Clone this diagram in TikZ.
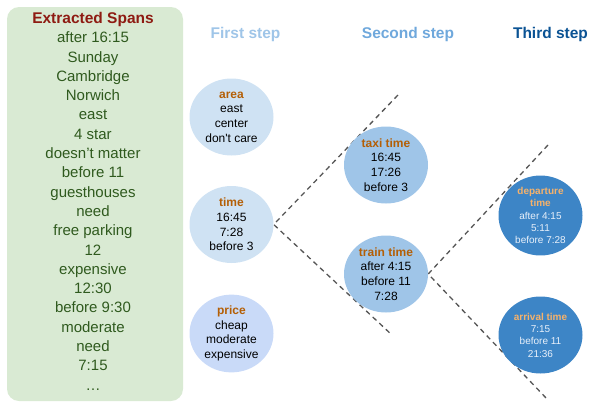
\documentclass[tikz,border=0pt]{standalone}
\usepackage{fontspec}
\setmainfont{Liberation Sans}
\usetikzlibrary{shapes.geometric,backgrounds}

\definecolor{panelfill}{HTML}{D9EAD3}
\definecolor{paneltext}{HTML}{2F5A1E}
\definecolor{paneltitle}{HTML}{8E1B12}
\definecolor{stepone}{HTML}{9FC5E8}
\definecolor{steptwo}{HTML}{6FA8DC}
\definecolor{stepthree}{HTML}{0B5394}
\definecolor{areafill}{HTML}{CFE2F3}
\definecolor{pricefill}{HTML}{C9DAF8}
\definecolor{midfill}{HTML}{9FC5E8}
\definecolor{deepfill}{HTML}{3D85C6}
\definecolor{slotorange}{HTML}{B45F06}
\definecolor{slotpeach}{HTML}{F6B26B}
\definecolor{deeptext}{HTML}{E8F0FA}
\definecolor{cutline}{HTML}{555555}

\newcommand{\slothead}[2][slotorange]{\textcolor{#1}{\textbf{#2}}}

\tikzset{
  head/.style={anchor=base, inner sep=0pt, font=\fontsize{15.5}{18}\selectfont\bfseries},
  slot/.style={ellipse, inner sep=0pt, minimum width=84pt, minimum height=77pt,
    align=center, font=\fontsize{12}{14.6}\selectfont},
  deepslot/.style={slot, fill=deepfill, text=deeptext, font=\fontsize{10}{12.3}\selectfont},
  cut/.style={draw=cutline, line width=1.3pt, dash pattern=on 5pt off 4pt}
}

\begin{document}
\begin{tikzpicture}[x=1pt, y=-1pt]
\useasboundingbox (0,0) rectangle (592,405);
\fill[panelfill, rounded corners=12pt] (7,7) rectangle (183,401);
\node[anchor=north, inner sep=0pt, align=center, text=paneltext,
  font=\fontsize{15}{19.3}\selectfont] (spans) at (93,12)
  {\textcolor{paneltitle}{\fontsize{15.5}{19.3}\selectfont\bfseries Extracted Spans}\\
   after 16:15\\Sunday\\Cambridge\\Norwich\\east\\4 star\\doesn’t matter\\before 11\\
   guesthouses\\need\\free parking\\12\\expensive\\12:30\\before 9:30\\moderate\\need\\7:15\\…};

\node[head, text=stepone] (first) at (245.5,38) {First step};
\node[head, text=steptwo] (second) at (408,38) {Second step};
\node[head, text=stepthree] (third) at (550.5,38) {Third step};

\node[slot, fill=areafill] (area) at (231.5,117) {\slothead{area}\\east\\center\\don\textquotesingle t care};
\node[slot, fill=areafill] (time) at (231.5,224.5) {\slothead{time}\\16:45\\7:28\\before 3};
\node[slot, fill=pricefill] (price) at (231.5,333.5) {\slothead{price}\\cheap\\moderate\\expensive};

\node[slot, fill=midfill] (taxi) at (386,165) {\slothead{taxi time}\\16:45\\17:26\\before 3};
\node[slot, fill=midfill] (train) at (386,274) {\slothead{train time}\\after 4:15\\before 11\\7:28};

\node[deepslot] (depart) at (540.5,215.5) {\slothead[slotpeach]{departure}\\\slothead[slotpeach]{time}\\after 4:15\\5:11\\before 7:28};
\node[deepslot] (arrive) at (540.5,335) {\slothead[slotpeach]{arrival time}\\7:15\\before 11\\21:36};

\coordinate (cutA) at (398,95);
\coordinate (cutB) at (392,335);
\coordinate (cutC) at (548,145);
\coordinate (cutD) at (547,399);
\begin{scope}[on background layer]
\draw[cut] (cutA) -- (time.east) -- (cutB);
\draw[cut] (cutC) -- (train.east) -- (cutD);
\end{scope}
\end{tikzpicture}
\end{document}
